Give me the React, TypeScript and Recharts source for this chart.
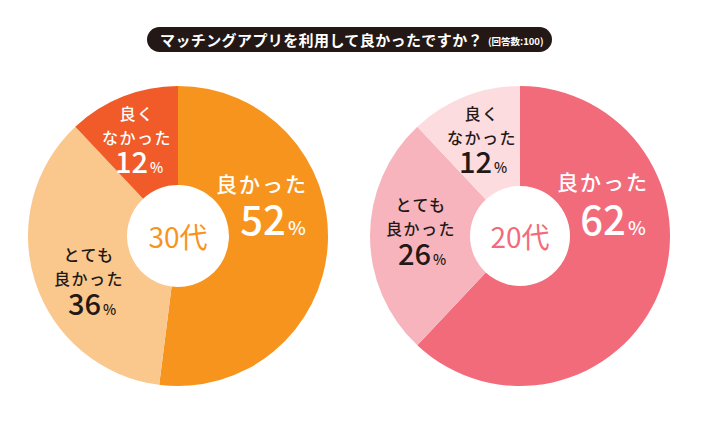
import React from "react";
import { PieChart, Pie, Cell } from "recharts";

const TITLE = "マッチングアプリを利用して良かったですか？";
const TITLE_NOTE = "(回答数:100)";

const CATEGORIES = ["良かった", "とても良かった", "良くなかった"];
const LABEL_LINES = [["良かった"], ["とても", "良かった"], ["良く", "なかった"]];
const VALUES_30 = [52, 36, 12];
const VALUES_20 = [62, 26, 12];
const AGE_30 = "30代";
const AGE_20 = "20代";

const COLORS_30 = ["#F7941E", "#FAC78C", "#F15A29"];
const COLORS_20 = ["#F26B7B", "#F8B4BC", "#FDDCE0"];
const TEXT_30 = ["#FFFFFF", "#231815", "#FFFFFF"];
const TEXT_20 = ["#FFFFFF", "#231815", "#231815"];

// label spots relative to pie centre: kana line centre (x, y), number baseline (nx, ny)
const SPOTS_30 = [
  { x: 84, y: -53, nx: 95, ny: -1 },
  { x: -89, y: 18, nx: -86, ny: 79 },
  { x: -41, y: -123, nx: -39, ny: -63 },
];
const SPOTS_20 = [
  { x: 83, y: -55, nx: 93, ny: -1 },
  { x: -99, y: -32, nx: -98, ny: 29 },
  { x: -38, y: -123, nx: -37, ny: -63 },
];

const FONT = "'Noto Sans CJK JP', 'Noto Sans', sans-serif";

const toRows = (values: number[]) =>
  CATEGORIES.map((name, i) => ({ name, value: values[i] }));

function makeLabel(spots: typeof SPOTS_30, textColors: string[], age: string, ageColor: string) {
  return (props: any) => {
    const { cx, cy, index, value } = props;
    const s = spots[index];
    const big = index === 0;
    const lines = LABEL_LINES[index];
    const fs = big ? 21 : 16;
    const step = big ? 0 : 24;
    const fill = textColors[index];
    return (
      <g>
        {index === 0 && (
          <text
            x={cx}
            y={cy}
            textAnchor="middle"
            dominantBaseline="central"
            fill={ageColor}
            fontSize={28}
            fontWeight={400}
            fontFamily={FONT}
          >
            {age}
          </text>
        )}
        {lines.map((ln, k) => (
          <text
            key={k}
            x={cx + s.x}
            y={cy + s.y + k * step}
            textAnchor="middle"
            dominantBaseline="central"
            fill={fill}
            fontSize={fs}
            fontWeight={500}
            letterSpacing={big ? 2 : 1.5}
            fontFamily={FONT}
          >
            {ln}
          </text>
        ))}
        <text
          x={cx + s.nx}
          y={cy + s.ny}
          textAnchor="middle"
          fill={fill}
          fontWeight={500}
          fontFamily={FONT}
        >
          <tspan fontSize={big ? 40 : 29}>{value}</tspan>
          <tspan fontSize={big ? 19 : 14} dx={2}>%</tspan>
        </text>
      </g>
    );
  };
}

export default function App() {
  return (
    <div
      style={{
        position: "absolute",
        left: 0,
        top: 0,
        width: 701,
        height: 421,
        background: "#fff",
        fontFamily: FONT,
      }}
    >
      <div
        style={{
          position: "absolute",
          left: 147,
          top: 27,
          width: 405,
          height: 25,
          borderRadius: 13,
          background: "#231815",
          color: "#fff",
          display: "flex",
          alignItems: "center",
          paddingLeft: 13,
          boxSizing: "border-box",
          whiteSpace: "nowrap",
        }}
      >
        <span style={{ fontSize: 15, fontWeight: 700, letterSpacing: 0.4 }}>{TITLE}</span>
        <span style={{ fontSize: 9.5, fontWeight: 700, marginLeft: 5, marginTop: 3 }}>{TITLE_NOTE}</span>
      </div>
      <PieChart width={701} height={421} margin={{ top: 0, right: 0, bottom: 0, left: 0 }}>
        <Pie
          data={toRows(VALUES_30)}
          dataKey="value"
          nameKey="name"
          cx={178}
          cy={236}
          innerRadius={51}
          outerRadius={150}
          startAngle={90}
          endAngle={-270}
          stroke="none"
          labelLine={false}
          label={makeLabel(SPOTS_30, TEXT_30, AGE_30, COLORS_30[0])}
          isAnimationActive={false}
        >
          {VALUES_30.map((_v, i) => (
            <Cell key={i} fill={COLORS_30[i]} />
          ))}
        </Pie>
        <Pie
          data={toRows(VALUES_20)}
          dataKey="value"
          nameKey="name"
          cx={520}
          cy={236}
          innerRadius={50}
          outerRadius={150}
          startAngle={90}
          endAngle={-270}
          stroke="none"
          labelLine={false}
          label={makeLabel(SPOTS_20, TEXT_20, AGE_20, COLORS_20[0])}
          isAnimationActive={false}
        >
          {VALUES_20.map((_v, i) => (
            <Cell key={i} fill={COLORS_20[i]} />
          ))}
        </Pie>
      </PieChart>
    </div>
  );
}
